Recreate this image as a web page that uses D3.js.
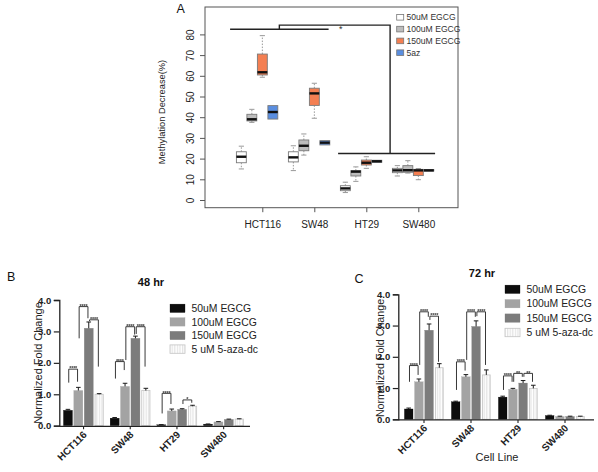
<!DOCTYPE html>
<html><head><meta charset="utf-8">
<script src="https://cdn.jsdelivr.net/npm/d3@7"></script>
<style>body{margin:0;background:#fff;} svg{display:block;font-family:"Liberation Sans",Arial,Helvetica,sans-serif;}</style>
</head><body><svg id="c" width="598" height="472"></svg>
<script>
// ---------------- DATA ----------------
const cellLines = ["HCT116","SW48","HT29","SW480"];

// Panel A: boxplots, [min, q1, median, q3, max] per cell line
const boxSeries = ["50uM EGCG","100uM EGCG","150uM EGCG","5az"];
const box50uM  = [[15,18,20.9,23.3,26],[14.2,18.4,20.6,23.3,26.2],[3.6,4.5,5.6,6.9,8.6],[11.6,13.2,14.3,15.3,16.6]];
const box100uM = [[37.5,38.2,39,41.4,43.8],[21.7,23.8,26.2,29,31.9],[9,11.6,13.7,14.2,16],[13,13.4,14.4,16.6,19]];
const box150uM = [[59.3,60.4,61.7,70.5,79.4],[39.5,45.7,51.5,54,56.4],[15.3,16.9,18,19.3,20.9],[9.8,11.8,14.3,14.8,15.2]];
const box5az   = [[39.1,39.1,42.5,45.6,45.6],[26.6,26.6,27.7,28.7,28.7],[18.2,18.2,18.7,19.2,19.2],[14,14,14.3,14.7,14.7]];
const yTicksA = [0,10,20,30,40,50,60,70,80];
// significance lines in A (values in %)
const sigA = {leftLevel:82.5, topLevel:84.5, rightLevel:22.5, label:"*"};

// Panels B / C: bar charts
const barSeries = ["50uM EGCG","100uM EGCG","150uM EGCG","5 uM 5-aza-dc"];
const yTicksBC = [0,1,2,3,4];
// 48 hr
const h48_50  = [0.49,0.24,0.03,0.05];
const h48_100 = [1.12,1.25,0.47,0.12];
const h48_150 = [3.1,2.78,0.52,0.2];
const h48_aza = [1.0,1.12,0.62,0.21];
const e48_50  = [0.03,0.02,0.005,0.005];
const e48_100 = [0.1,0.1,0.06,0.01];
const e48_150 = [0.2,0.07,0.02,0.01];
const e48_aza = [0.02,0.07,0.03,0.01];
// 72 hr
const h72_50  = [0.33,0.56,0.71,0.12];
const h72_100 = [1.2,1.36,0.96,0.09];
const h72_150 = [2.85,2.97,1.16,0.09];
const h72_aza = [1.65,1.42,0.99,0.09];
const e72_50  = [0.03,0.02,0.03,0.01];
const e72_100 = [0.09,0.07,0.03,0.01];
const e72_150 = [0.2,0.18,0.08,0.01];
const e72_aza = [0.13,0.16,0.1,0.01];
// significance brackets: [cell line, bar i, bar j, bracket level, leg i end, leg j end, label]
const brackets48 = [
  ["HCT116",0,1,1.8,1.37,1.4,"****"],
  ["HCT116",1,2,3.79,2.78,3.42,"****"],
  ["HCT116",2,3,3.37,3.33,1.88,"****"],
  ["SW48",0,1,2.04,1.5,1.77,"****"],
  ["SW48",1,2,3.15,2.09,2.9,"****"],
  ["SW48",2,3,3.15,2.92,1.88,"****"],
  ["HT29",0,1,1.03,0.39,0.69,"****"],
  ["HT29",2,3,0.82,0.69,0.73,"*"]
];
const brackets72 = [
  ["HCT116",0,1,1.72,1.2,1.42,"****"],
  ["HCT116",1,2,3.44,1.74,3.28,"****"],
  ["HCT116",2,3,3.3,3.18,1.84,"****"],
  ["SW48",0,1,1.84,0.94,1.56,"****"],
  ["SW48",1,2,3.44,1.9,3.28,"****"],
  ["SW48",2,3,3.44,3.3,1.74,"****"],
  ["HT29",0,1,1.39,0.94,1.2,"****"],
  ["HT29",1,2,1.47,1.2,1.36,"**"],
  ["HT29",2,3,1.47,1.36,1.2,"**"]
];

// ---------------- DRAW ----------------
const svg = d3.select("#c");
const defs = svg.append("defs");
const pat = defs.append("pattern").attr("id","hatch").attr("patternUnits","userSpaceOnUse")
  .attr("width",2.6).attr("height",4);
pat.append("rect").attr("width",2.6).attr("height",4).attr("fill","#fff");
pat.append("line").attr("x1",0.7).attr("x2",0.7).attr("y1",0).attr("y2",4).attr("stroke","#dadada").attr("stroke-width",0.9);
const gray = defs.append("filter").attr("id","gray").attr("x",0).attr("y",0).attr("width",1).attr("height",1)
  .attr("filterUnits","userSpaceOnUse");
gray.attr("x",0).attr("y",0).attr("width",598).attr("height",472);
gray.append("feColorMatrix").attr("type","saturate").attr("values",0);

// ===== Panel A =====
const gA = svg.append("g");
const boxData = [box50uM, box100uM, box150uM, box5az];
const boxFill = ["#ffffff","#bdbdbd","#f47f52","#5a8ee0"];
const xA = d3.scalePoint().domain(cellLines).range([262.3, 418.3]);
const sA = d3.scaleBand().domain(boxSeries).range([-26.2, 15.8]);
const yA = d3.scaleLinear().domain([0,80]).range([200, 34.4]);

gA.append("rect").attr("x",205).attr("y",7).attr("width",253).attr("height",200.7)
  .attr("fill","none").attr("stroke","#555").attr("stroke-width",1);

const axAy = gA.append("g").attr("transform","translate(205,0)")
  .call(d3.axisLeft(yA).tickValues(yTicksA).tickSize(5).tickFormat(d3.format("d")));
axAy.select(".domain").remove();
axAy.selectAll(".tick line").attr("stroke","#555");
axAy.selectAll(".tick text").attr("transform","rotate(-90)").attr("x",0).attr("y",-11).attr("dy",0)
  .attr("text-anchor","middle").attr("font-size",10).attr("fill","#222").attr("font-family",null);

const axAx = gA.append("g").attr("transform","translate(0,207.7)")
  .call(d3.axisBottom(xA).tickSize(4.5).tickPadding(8.7));
axAx.select(".domain").remove();
axAx.selectAll(".tick line").attr("stroke","#555");
axAx.selectAll(".tick text").attr("font-size",10).attr("fill","#222").attr("font-family",null);

gA.append("text").attr("transform","translate(165,112) rotate(-90)").attr("text-anchor","middle")
  .attr("font-size",9.3).attr("fill","#222").text("Methylation Decrease(%)");
gA.append("text").attr("x",176.5).attr("y",12.8).attr("font-size",12.5).attr("fill","#111").text("A");

const bw = sA.bandwidth();
boxSeries.forEach((s,k)=>{
  cellLines.forEach((c,i)=>{
    const [mn,q1,md,q3,mx] = boxData[k][i];
    const cx = xA(c)+sA(s)+bw/2;
    const g = gA.append("g");
    if (mx>q3){
      g.append("line").attr("x1",cx).attr("x2",cx).attr("y1",yA(q3)).attr("y2",yA(mx))
        .attr("stroke","#999").attr("stroke-dasharray","1.5,1.5");
      g.append("line").attr("x1",cx-2.6).attr("x2",cx+2.6).attr("y1",yA(mx)).attr("y2",yA(mx)).attr("stroke","#999");
    }
    if (mn<q1){
      g.append("line").attr("x1",cx).attr("x2",cx).attr("y1",yA(q1)).attr("y2",yA(mn))
        .attr("stroke","#999").attr("stroke-dasharray","1.5,1.5");
      g.append("line").attr("x1",cx-2.6).attr("x2",cx+2.6).attr("y1",yA(mn)).attr("y2",yA(mn)).attr("stroke","#999");
    }
    g.append("rect").attr("x",cx-bw/2+0.3).attr("width",bw-0.6).attr("y",yA(q3)).attr("height",Math.max(1,yA(q1)-yA(q3)))
      .attr("fill",boxFill[k]).attr("stroke","#7a7a7a").attr("stroke-width",0.9);
    g.append("line").attr("x1",cx-bw/2+0.3).attr("x2",cx+bw/2-0.3).attr("y1",yA(md)).attr("y2",yA(md))
      .attr("stroke","#111").attr("stroke-width",2.4);
  });
});

// significance lines
{
  const leftL = xA(cellLines[0])+sA(boxSeries[0])-6;
  const leftR = xA(cellLines[1])+sA(boxSeries[3])+bw-1.5;
  const rightL = xA(cellLines[2])+sA(boxSeries[0])-2;
  const rightR = xA(cellLines[3])+sA(boxSeries[3])+bw+1;
  const lm = (leftL+leftR)/2, rm = (rightL+rightR)/2+3.5;
  const p = d3.path();
  p.moveTo(leftL, yA(sigA.leftLevel)); p.lineTo(leftR, yA(sigA.leftLevel));
  p.moveTo(lm, yA(sigA.leftLevel)); p.lineTo(lm, yA(sigA.topLevel)); p.lineTo(rm, yA(sigA.topLevel));
  p.lineTo(rm, yA(sigA.rightLevel));
  p.moveTo(rightL, yA(sigA.rightLevel)); p.lineTo(rightR, yA(sigA.rightLevel));
  gA.append("path").attr("d",p.toString()).attr("stroke","#222").attr("stroke-width",1.4).attr("fill","none");
  gA.append("text").attr("x",(lm+rm)/2+6).attr("y",yA(sigA.topLevel)+6.8).attr("text-anchor","middle")
    .attr("font-size",9).attr("fill","#333").text(sigA.label);
}

// legend A
boxSeries.forEach((s,k)=>{
  const y = 17.3 + k*11.8;
  gA.append("rect").attr("x",396.7).attr("y",y-2.8).attr("width",7).attr("height",5.6)
    .attr("fill",boxFill[k]).attr("stroke","#777").attr("stroke-width",0.8);
  gA.append("text").attr("x",406.5).attr("y",y+3).attr("font-size",8.6).attr("fill","#333").text(s);
});

// ===== Bar panels =====
const barFill = ["#0d0d0d","#a3a3a3","#7c7c7c","url(#hatch)"];
const barStroke = ["#0d0d0d","#a3a3a3","#7c7c7c","#c4c4c4"];

function barPanel(opt){
  const g = svg.append("g");
  const x = d3.scaleBand().domain(cellLines).range(opt.xr);
  const s = d3.scaleBand().domain(barSeries).range(opt.sr).paddingInner(opt.pad);
  const y = d3.scaleLinear().domain([0,4]).range(opt.yr);
  const cx = (c,k)=> x(c)+x.bandwidth()/2+s(barSeries[k])+s.bandwidth()/2;

  opt.values.forEach((vals,k)=>{
    cellLines.forEach((c,i)=>{
      const v = vals[i], e = opt.errs[k][i];
      const bx = x(c)+x.bandwidth()/2+s(barSeries[k]);
      g.append("rect").attr("x",bx+ (k===3?0.4:0)).attr("width",s.bandwidth()-(k===3?0.8:0))
        .attr("y",y(v)).attr("height",y(0)-y(v))
        .attr("fill",barFill[k]).attr("stroke",barStroke[k]).attr("stroke-width",k===3?0.8:0.3);
      const c0 = cx(c,k);
      g.append("line").attr("x1",c0).attr("x2",c0).attr("y1",y(v)).attr("y2",y(v+e)).attr("stroke","#1a1a1a").attr("stroke-width",1);
      g.append("line").attr("x1",c0-2.3).attr("x2",c0+2.3).attr("y1",y(v+e)).attr("y2",y(v+e)).attr("stroke","#1a1a1a").attr("stroke-width",1);
    });
  });

  const gb = g.append("g").attr("filter","url(#gray)");
  opt.brackets.forEach(([c,i,j,top,li,lj,lab])=>{
    const xi = cx(c,i)+0.8, xj = cx(c,j)-0.8;
    const p = d3.path();
    p.moveTo(xi,y(li)); p.lineTo(xi,y(top)); p.lineTo(xj,y(top)); p.lineTo(xj,y(lj));
    gb.append("path").attr("d",p.toString()).attr("fill","none").attr("stroke","#222").attr("stroke-width",0.9);
    gb.append("text").attr("x",(xi+xj)/2).attr("y",y(top)+1.3).attr("text-anchor","middle")
      .attr("font-size",5.6).attr("font-weight","bold").attr("letter-spacing",-0.2).attr("fill","#333").text(lab);
  });

  const ay = g.append("g").attr("transform",`translate(${opt.axX},0)`)
    .call(d3.axisLeft(y).tickValues(yTicksBC).tickSize(5.5).tickPadding(2.5));
  ay.select(".domain").attr("stroke","#222").attr("stroke-width",1.3);
  ay.selectAll(".tick line").attr("stroke","#222").attr("stroke-width",1.2);
  ay.selectAll(".tick text").attr("font-size",9.5).attr("font-weight","bold").attr("fill","#222").attr("font-family",null);

  g.append("line").attr("x1",opt.axX).attr("x2",opt.xEnd).attr("y1",y(0)+0.6).attr("y2",y(0)+0.6)
    .attr("stroke","#222").attr("stroke-width",1.3);
  const ax = g.append("g").attr("transform",`translate(0,${y(0)+0.6})`)
    .call(d3.axisBottom(x).tickSize(3).tickPadding(2));
  ax.select(".domain").remove();
  ax.selectAll(".tick line").attr("stroke","#222").attr("stroke-width",1.1);
  ax.selectAll(".tick text").attr("font-size",10).attr("font-weight","bold").attr("fill","#222").attr("font-family",null)
    .attr("text-anchor","end").attr("dy",0).attr("y",0).attr("transform","translate(4,9) rotate(-45)");

  g.append("text").attr("transform",`translate(${opt.yTitleX},${opt.yTitleY}) rotate(-90)`).attr("text-anchor","middle")
    .attr("font-size",opt.yTitleSize).attr("fill","#222").text("Normalized Fold Change");
  g.append("text").attr("x",opt.titleX).attr("y",opt.titleY).attr("text-anchor","middle")
    .attr("font-size",11).attr("font-weight","bold").attr("fill","#111").text(opt.title);
  g.append("text").attr("x",opt.letterX).attr("y",opt.letterY).attr("font-size",12.5).attr("fill","#111").text(opt.letter);

  barSeries.forEach((sn,k)=>{
    const ly = opt.legY + k*opt.legStep;
    g.append("rect").attr("x",opt.legX).attr("y",ly-4.2).attr("width",15).attr("height",8.4)
      .attr("fill",barFill[k]).attr("stroke",barStroke[k]).attr("stroke-width",k===3?0.8:0.3);
    g.append("text").attr("x",opt.legX+21.5).attr("y",ly+3.7).attr("font-size",10.4).attr("fill","#222").text(sn);
  });
  return g;
}

barPanel({
  xr:[60.2,247], sr:[-20.1,20.1], pad:0.135, yr:[425.7,300], axX:59.3, xEnd:250,
  values:[h48_50,h48_100,h48_150,h48_aza], errs:[e48_50,e48_100,e48_150,e48_aza], brackets:brackets48,
  yTitleX:41.8, yTitleY:363, yTitleSize:11, title:"48 hr", titleX:151, titleY:285.5,
  letter:"B", letterX:7, letterY:280.5, legX:170, legY:308.3, legStep:13.6
});
const gC = barPanel({
  xr:[400.5,588.5], sr:[-19.6,19.6], pad:0.157, yr:[419.3,294.3], axX:398.3, xEnd:594,
  values:[h72_50,h72_100,h72_150,h72_aza], errs:[e72_50,e72_100,e72_150,e72_aza], brackets:brackets72,
  yTitleX:384, yTitleY:358, yTitleSize:10.7, title:"72 hr", titleX:482, titleY:277,
  letter:"C", letterX:354.5, letterY:282.5, legX:505, legY:289.3, legStep:14.4
});
gC.append("text").attr("x",497).attr("y",461).attr("text-anchor","middle").attr("font-size",11).attr("fill","#222").text("Cell Line");
</script>
</body></html>
